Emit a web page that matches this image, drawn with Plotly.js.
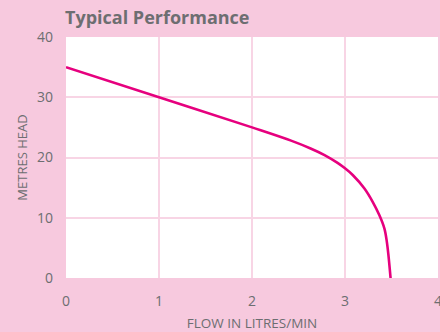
<!DOCTYPE html>
<html>
<head>
<meta charset="utf-8">
<script src="https://cdn.plot.ly/plotly-3.0.1.min.js"></script>
<style>html,body{margin:0;padding:0;background:#f7c9de;}#chart{width:440px;height:332px;}</style>
</head>
<body>
<div id="chart"></div>
<script>
const flow = [0, 1, 2, 2.42, 2.63, 2.78, 2.92, 3.0, 3.083, 3.209, 3.299, 3.37, 3.424, 3.45, 3.467, 3.49];
const head = [35, 30, 25, 22.8, 21.5, 20.4, 19.1, 18.2, 17.1, 14.85, 12.6, 10.4, 8.2, 6.0, 3.8, 0];
const xTicks = [0, 1, 2, 3, 4];
const yTicks = [0, 10, 20, 30, 40];

const textColor = '#6d6e71';
const gridColor = '#f8d5e5';
const fam = '"Open Sans", "Noto Sans", sans-serif';

Plotly.newPlot('chart', [{
  x: flow, y: head, type: 'scatter', mode: 'lines',
  line: {color: '#e6007e', width: 2.6, shape: 'spline', smoothing: 1},
  hoverinfo: 'none'
}], {
  width: 440, height: 332,
  paper_bgcolor: '#f7c9de', plot_bgcolor: '#ffffff',
  margin: {l: 66, r: 2, t: 37, b: 54, pad: 0},
  showlegend: false,
  font: {family: fam, color: textColor, size: 14},
  title: {text: '<b>Typical Performance</b>', x: 65/440, xanchor: 'left', xref: 'container',
          y: 1 - 18/332, yanchor: 'middle', yref: 'container',
          font: {size: 18, color: textColor, family: fam}},
  xaxis: {range: [0, 4], tickvals: xTicks, ticktext: xTicks.map(String), showgrid: true, gridcolor: gridColor, gridwidth: 2,
          zeroline: false, showline: false, ticks: '', ticklabelstandoff: 13, ticklabeloverflow: 'allow',
          title: {text: 'FLOW IN LITRES/MIN', font: {size: 13.5, color: textColor}, standoff: 10}},
  yaxis: {range: [0, 40], tickvals: yTicks, ticktext: yTicks.map(String), showgrid: true, gridcolor: gridColor, gridwidth: 2,
          zeroline: false, showline: false, ticks: '', ticklabelstandoff: 12, ticklabeloverflow: 'allow',
          title: {text: 'METRES HEAD', font: {size: 13, color: textColor}, standoff: 6}}
}, {displayModeBar: false, staticPlot: true});
</script>
</body>
</html>
